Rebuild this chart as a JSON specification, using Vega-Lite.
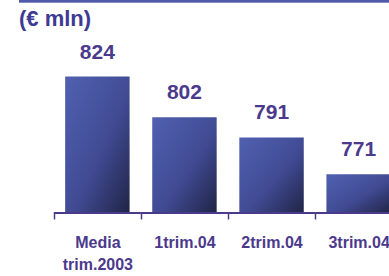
{
  "$schema": "https://vega.github.io/schema/vega-lite/v6.json",
  "width": 418,
  "height": 212,
  "autosize": "none",
  "padding": {"left": 19, "top": 1, "right": 0, "bottom": 63},
  "background": "white",
  "config": {"view": {"stroke": null}, "font": "Liberation Sans"},
  "title": {
    "text": "(€ mln)",
    "anchor": "start",
    "frame": "group",
    "offset": -48,
    "baseline": "alphabetic",
    "fontSize": 22,
    "font": "Liberation Sans",
    "fontWeight": "bold",
    "color": "#3d3a94"
  },
  "data": {
    "values": [
      {"period": "Media trim.2003", "value": 824},
      {"period": "1trim.04", "value": 802},
      {"period": "2trim.04", "value": 791},
      {"period": "3trim.04", "value": 771}
    ]
  },
  "layer": [
    {
      "mark": {
        "type": "bar",
        "width": {"band": 0.74},
        "color": {
          "gradient": "linear",
          "x1": 0, "y1": 0, "x2": 1, "y2": 1,
          "stops": [
            {"offset": 0, "color": "#5061b0"},
            {"offset": 0.55, "color": "#414b94"},
            {"offset": 1, "color": "#202446"}
          ]
        }
      },
      "encoding": {
        "x": {
          "field": "period", "type": "nominal", "sort": null,
          "scale": {"paddingInner": 0, "paddingOuter": 0.4},
          "axis": {
            "title": null, "domain": false, "tickBand": "extent",
            "tickColor": "#4b3a8c", "tickSize": 6, "tickWidth": 1.5,
            "labelAngle": 0, "labelFont": "Liberation Sans", "labelFontWeight": "bold",
            "labelFontSize": 16, "labelColor": "#4b3a8c", "labelPadding": 15,
            "labelLineHeight": 22, "labelExpr": "split(datum.label, ' ')",
            "labelLimit": 0, "labelOverlap": false
          }
        },
        "y": {
          "field": "value", "type": "quantitative",
          "scale": {"domain": [750, 865], "zero": false, "nice": false},
          "axis": null
        },
        "y2": {"datum": 750}
      }
    },
    {
      "mark": {"type": "bar", "width": {"band": 1}, "color": "#4b3a8c"},
      "encoding": {
        "x": {"field": "period", "type": "nominal", "sort": null},
        "y": {"datum": 750.55, "type": "quantitative", "scale": {"domain": [750, 865], "zero": false, "nice": false}},
        "y2": {"datum": 749.45}
      }
    },
    {
      "mark": {
        "type": "text", "dy": -18, "baseline": "alphabetic",
        "fontSize": 21, "fontWeight": "bold", "font": "Liberation Sans", "color": "#4b3a8c"
      },
      "encoding": {
        "x": {"field": "period", "type": "nominal", "sort": null},
        "y": {"field": "value", "type": "quantitative", "scale": {"domain": [750, 865], "zero": false, "nice": false}},
        "text": {"field": "value", "type": "quantitative"}
      }
    },
    {
      "mark": {"type": "rule", "color": "#4f5aa8", "strokeWidth": 2.5},
      "encoding": {
        "y": {"datum": 865, "type": "quantitative", "scale": {"domain": [750, 865], "zero": false, "nice": false}}
      }
    }
  ]
}
